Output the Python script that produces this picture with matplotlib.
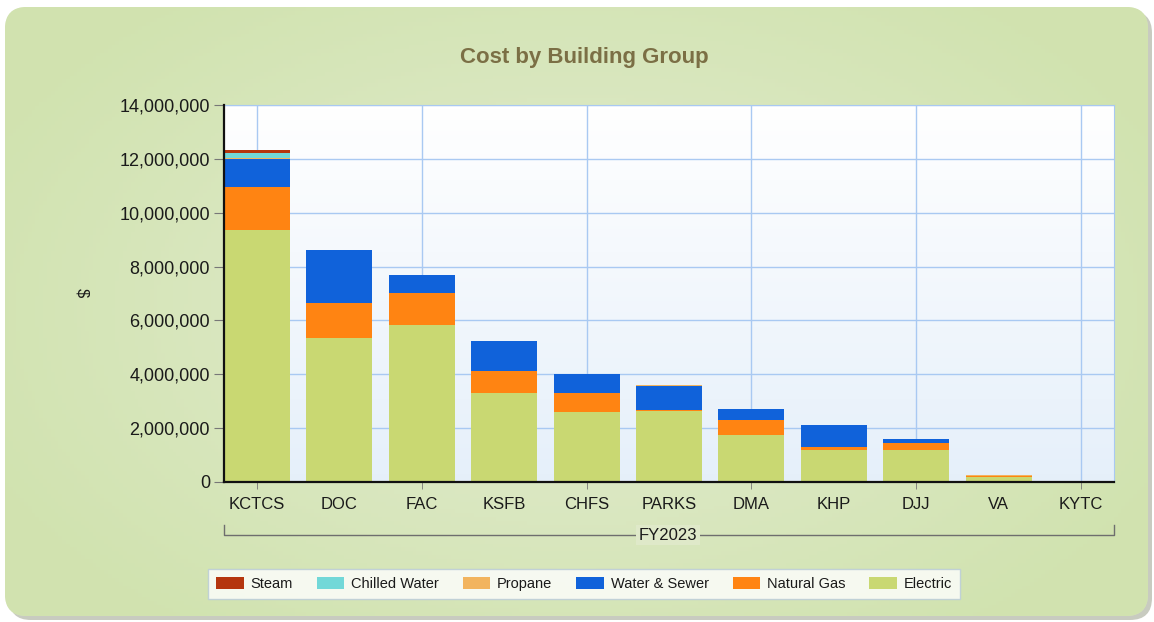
import numpy as np
from matplotlib import pyplot as plt
from matplotlib.patches import FancyBboxPatch, Patch
from matplotlib.ticker import FuncFormatter

plt.rcParams['font.family'] = ['Liberation Sans', 'DejaVu Sans']

# values, in millions of dollars
groups = ["KCTCS", "DOC", "FAC", "KSFB", "CHFS", "PARKS", "DMA", "KHP", "DJJ", "VA", "KYTC"]
electric = [9.35, 5.36, 5.83, 3.29, 2.59, 2.64, 1.73, 1.19, 1.19, 0.20, 0.02]
natural_gas = [1.60, 1.30, 1.19, 0.84, 0.70, 0.02, 0.56, 0.12, 0.27, 0.03, 0.005]
water_sewer = [1.05, 1.95, 0.67, 1.12, 0.72, 0.90, 0.42, 0.79, 0.13, 0.0, 0.0]
propane = [0.02, 0.0, 0.0, 0.0, 0.0, 0.05, 0.0, 0.0, 0.0, 0.03, 0.0]
chilled_water = [0.18, 0.0, 0.0, 0.0, 0.0, 0.0, 0.0, 0.0, 0.0, 0.0, 0.0]
steam = [0.12, 0.0, 0.0, 0.0, 0.0, 0.0, 0.0, 0.0, 0.0, 0.0, 0.0]

series = [("Electric", electric, "#c9d872"),
          ("Natural Gas", natural_gas, "#ff8412"),
          ("Water & Sewer", water_sewer, "#1062da"),
          ("Propane", propane, "#f2b45e"),
          ("Chilled Water", chilled_water, "#72d8d8"),
          ("Steam", steam, "#b5360e")]
legend_order = ["Steam", "Chilled Water", "Propane", "Water & Sewer", "Natural Gas", "Electric"]

W, H = 1154, 622
fig = plt.figure(figsize=(W / 100, H / 100), dpi=100)
fig.patch.set_facecolor("white")

# background panel with rounded corners + soft gradient
bg = fig.add_axes([0, 0, 1, 1])
bg.set_xlim(0, W)
bg.set_ylim(H, 0)
bg.axis("off")
shadow = FancyBboxPatch((9, 11), 1143, 609, boxstyle="round,pad=0,rounding_size=22",
                        fc="#c8cbc0", ec="none", zorder=0)
bg.add_patch(shadow)
panel = FancyBboxPatch((5, 7), 1143, 609, boxstyle="round,pad=0,rounding_size=22",
                       fc="#d9e6c0", ec="none", zorder=1)
bg.add_patch(panel)
xx = np.linspace(-1, 1, 300)
yy = np.linspace(-1, 1, 160)
X, Y = np.meshgrid(xx, yy)
r = np.clip(np.sqrt(X ** 2 * 0.8 + Y ** 2 * 0.6), 0, 1)
c_in = np.array([0.890, 0.925, 0.820])
c_out = np.array([0.820, 0.890, 0.690])
img = c_in[None, None, :] * (1 - r[..., None]) + c_out[None, None, :] * r[..., None]
im = bg.imshow(img, extent=(5, 1148, 616, 7), aspect="auto", zorder=2)
im.set_clip_path(panel)

# title
fig.text(584 / W, 1 - 58 / H, "Cost by Building Group", ha="center", va="center",
         fontsize=16, fontweight="bold", color="#7b6f45")

# plot area
ax = fig.add_axes([224 / W, 1 - 482 / H, 890 / W, 377 / H])
ax.set_zorder(3)
grad = np.linspace(0, 1, 100)[:, None]
top = np.array([1.0, 1.0, 1.0])
bot = np.array([0.90, 0.94, 0.98])
gimg = top[None, None, :] * (1 - grad[..., None]) + bot[None, None, :] * grad[..., None]
ax.imshow(np.repeat(gimg, 2, axis=1), extent=(0, 1, 0, 1), transform=ax.transAxes,
          aspect="auto", zorder=0)

x = np.arange(len(groups))
bottom = np.zeros(len(groups))
for name, vals, col in series:
    v = np.array(vals) * 1e6
    ax.bar(x, v, 0.8, bottom=bottom, color=col, linewidth=0, zorder=3)
    bottom += v

ax.set_xlim(-0.4, 10.4)
ax.set_ylim(0, 14e6)
ax.set_yticks(np.arange(0, 14.1e6, 2e6))
ax.yaxis.set_major_formatter(FuncFormatter(lambda v, p: f"{int(v):,}"))
ax.set_xticks(x)
ax.set_xticklabels(groups)
ax.xaxis.remove_overlapping_locs = False
ax.set_xticks(x[::2], minor=True)
ax.tick_params(axis="x", which="major", length=0, pad=11, labelsize=12, labelcolor="#1a1a1a")
ax.tick_params(axis="x", which="minor", length=5, color="#777777", direction="out")
ax.tick_params(axis="y", length=7, color="#777777", labelsize=13, labelcolor="#1a1a1a", pad=3)
ax.grid(axis="y", color="#a9c9f2", linewidth=1, zorder=1)
ax.grid(axis="x", which="minor", color="#a9c9f2", linewidth=1, zorder=1)
ax.set_axisbelow(True)
for s in ["top", "right"]:
    ax.spines[s].set_color("#a9c9f2")
for s in ["left", "bottom"]:
    ax.spines[s].set_color("#111111")
    ax.spines[s].set_linewidth(1.6)
    ax.spines[s].set_zorder(5)

fig.text(82 / W, 1 - 293 / H, "$", rotation=-90, ha="center", va="center",
         fontsize=12, color="#1a1a1a")

# FY2023 bracket under the categories
bg.plot([224, 224, 1114, 1114], [525, 535, 535, 525], color="#6e6e6e", lw=1, zorder=4)
bg.text(668, 535, "FY2023", ha="center", va="center", fontsize=12, color="#1a1a1a",
        zorder=5, bbox=dict(boxstyle="square,pad=0.15", fc="#dfe9c9", ec="none"))

# legend
cols = {n: c for n, _, c in series}
handles = [Patch(facecolor=cols[n], edgecolor="none", label=n) for n in legend_order]
leg = fig.legend(handles=handles, loc="center", bbox_to_anchor=(584 / W, 1 - 584 / H),
                 ncol=6, fontsize=10.5, frameon=True, fancybox=False,
                 handlelength=1.9, handleheight=0.9, columnspacing=1.65, handletextpad=0.45,
                 borderpad=0.55, borderaxespad=0)
leg.get_frame().set_facecolor("#ffffff")
leg.get_frame().set_edgecolor("#b8cad8")
leg.get_frame().set_linewidth(1)
for t in leg.get_texts():
    t.set_color("#1a1a1a")

fig.savefig("out.png", dpi=100)
